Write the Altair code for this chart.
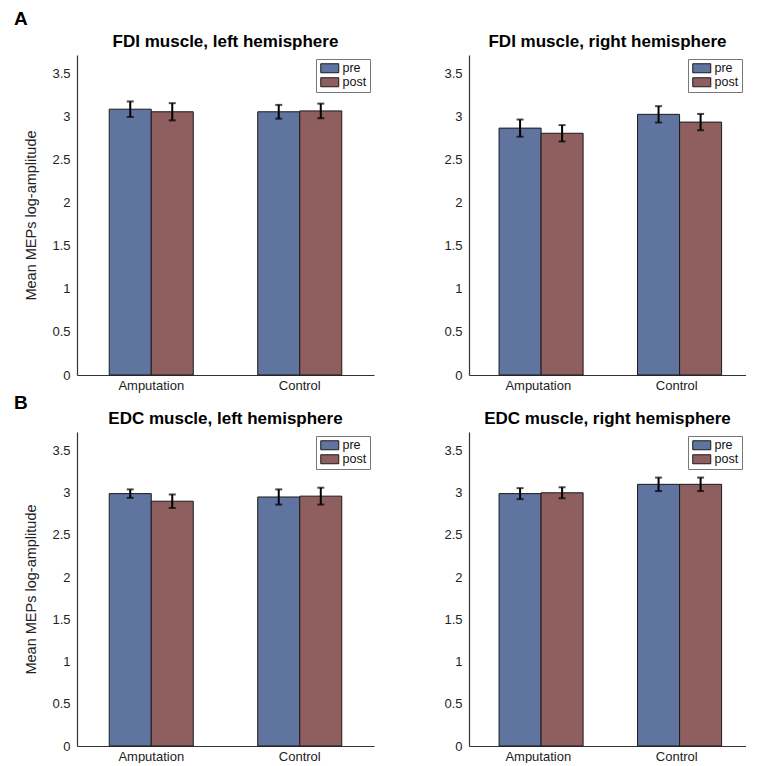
import altair as alt
import pandas as pd

groups = ["Amputation", "Control"]
times = ["pre", "post"]
titles = [
    "FDI muscle, left hemisphere",
    "FDI muscle, right hemisphere",
    "EDC muscle, left hemisphere",
    "EDC muscle, right hemisphere",
]
row_letters = ["A", "B"]
# order: Amputation pre, Amputation post, Control pre, Control post
fdi_left_mean = [3.09, 3.06, 3.06, 3.07]
fdi_left_err = [0.09, 0.10, 0.08, 0.085]
fdi_right_mean = [2.87, 2.81, 3.03, 2.94]
fdi_right_err = [0.10, 0.095, 0.095, 0.095]
edc_left_mean = [2.99, 2.90, 2.95, 2.96]
edc_left_err = [0.05, 0.08, 0.09, 0.10]
edc_right_mean = [2.99, 3.00, 3.10, 3.10]
edc_right_err = [0.065, 0.065, 0.08, 0.08]
y_ticks = [0, 0.5, 1, 1.5, 2, 2.5, 3, 3.5]
colors = ["#5f749e", "#8e5f5e"]

FONT = "Liberation Sans"
AXIS_COLOR = "#333333"


def panel(title, means, errs, width, height, show_ytitle):
    df = pd.DataFrame({
        "group": [g for g in groups for _ in times],
        "time": [t for _ in groups for t in times],
        "mean": means,
        "err": errs,
    })
    df["lo"] = df["mean"] - df["err"]
    df["hi"] = df["mean"] + df["err"]

    x = alt.X(
        "group:N", sort=groups,
        scale=alt.Scale(paddingInner=0.434, paddingOuter=0.217),
        axis=alt.Axis(title=None, labelAngle=0, ticks=False, labelPadding=4,
                      labelFontSize=13, labelFont=FONT, labelColor="#222",
                      domainColor=AXIS_COLOR, domainWidth=1.2),
    )
    xo = alt.XOffset("time:N", sort=times,
                     scale=alt.Scale(domain=times, paddingInner=0, paddingOuter=0))
    yscale = alt.Scale(domain=[0, 3.72], nice=False, zero=True)
    yaxis = alt.Axis(
        values=y_ticks, format="~g", grid=False, ticks=False, labelPadding=7,
        labelFontSize=13, labelFont=FONT, labelColor="#222",
        domainColor=AXIS_COLOR, domainWidth=1.2,
        title="Mean MEPs log-amplitude" if show_ytitle else None,
        titleFont=FONT, titleFontSize=14.5, titleFontWeight="normal",
        titleColor="#222", titlePadding=13,
    )

    bars = alt.Chart(df).mark_bar(stroke="#1a1a1a", strokeWidth=1).encode(
        x=x, xOffset=xo,
        y=alt.Y("mean:Q", scale=yscale, axis=yaxis),
        color=alt.Color(
            "time:N", sort=times,
            scale=alt.Scale(domain=times, range=colors),
            legend=alt.Legend(
                title=None, orient="top-right", offset=4, padding=3,
                strokeColor="#777", fillColor="white",
                symbolType="M-1,-1H3V1H-1Z", symbolSize=81,
                symbolStrokeColor="#1a1a1a", symbolStrokeWidth=1,
                labelOffset=11, rowPadding=0,
                labelFont=FONT, labelFontSize=12.5, labelColor="#111",
            ),
        ),
    )
    rules = alt.Chart(df).mark_rule(color="black", strokeWidth=2).encode(
        x=x, xOffset=xo, y=alt.Y("lo:Q", scale=yscale), y2="hi:Q")
    cap_lo = alt.Chart(df).mark_tick(color="black", thickness=2, size=7).encode(
        x=x, xOffset=xo, y=alt.Y("lo:Q", scale=yscale))
    cap_hi = alt.Chart(df).mark_tick(color="black", thickness=2, size=7).encode(
        x=x, xOffset=xo, y=alt.Y("hi:Q", scale=yscale))

    return alt.layer(bars, rules, cap_lo, cap_hi).properties(
        width=width, height=height,
        title=alt.TitleParams(title, font=FONT, fontSize=17, fontWeight="bold",
                              color="black", offset=4),
    ).resolve_scale(color="independent")


def row(letter, left, right, offset):
    return alt.hconcat(left, right, spacing=69).resolve_scale(
        color="independent").resolve_legend(color="independent").properties(
        title=alt.TitleParams(letter, anchor="start", font=FONT, fontSize=19,
                              fontWeight="bold", color="black", dx=-10,
                              offset=offset))


top = row(row_letters[0],
          panel(titles[0], fdi_left_mean, fdi_left_err, 297, 320, True),
          panel(titles[1], fdi_right_mean, fdi_right_err, 277, 320, False), 4)
bottom = row(row_letters[1],
             panel(titles[2], edc_left_mean, edc_left_err, 297, 314, True),
             panel(titles[3], edc_right_mean, edc_right_err, 277, 314, False), -3)

chart = alt.vconcat(top, bottom, spacing=2).resolve_scale(
    color="independent").resolve_legend(color="independent").configure_view(
    stroke=None).properties(padding={"left": 5, "top": 2, "right": 0, "bottom": 0})

chart.save("out.html", embed_options={"renderer": "svg", "actions": False})
